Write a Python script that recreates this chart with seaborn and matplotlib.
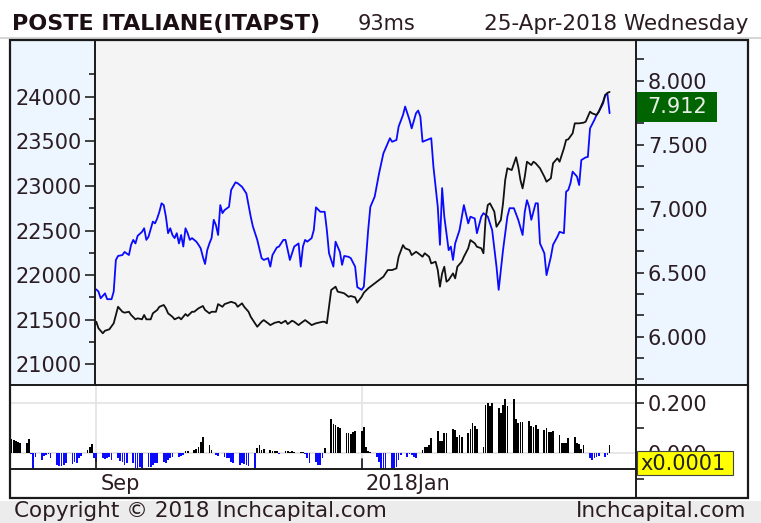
import numpy as np
import pandas as pd
import seaborn as sns
import matplotlib.pyplot as plt
import matplotlib.dates as mdates
import matplotlib.transforms as mtransforms
from matplotlib.patches import Rectangle
from matplotlib.lines import Line2D
from matplotlib.ticker import FixedLocator, FormatStrFormatter, NullFormatter

# ----------------------------
# Datos
# ----------------------------
# FTSE MIB (linea azul, eje izquierdo)
ftse_dates = [
    '2017-09-01', '2017-09-02', '2017-09-03', '2017-09-05', '2017-09-06', '2017-09-08', '2017-09-09', '2017-09-10', '2017-09-11', '2017-09-13',
    '2017-09-14', '2017-09-16', '2017-09-17', '2017-09-18', '2017-09-19', '2017-09-20', '2017-09-22', '2017-09-23', '2017-09-24', '2017-09-25',
    '2017-09-27', '2017-09-28', '2017-09-29', '2017-09-30', '2017-10-01', '2017-10-02', '2017-10-03', '2017-10-04', '2017-10-05', '2017-10-06',
    '2017-10-07', '2017-10-08', '2017-10-09', '2017-10-10', '2017-10-11', '2017-10-12', '2017-10-13', '2017-10-14', '2017-10-15', '2017-10-16',
    '2017-10-17', '2017-10-18', '2017-10-19', '2017-10-20', '2017-10-21', '2017-10-22', '2017-10-23', '2017-10-24', '2017-10-25', '2017-10-26',
    '2017-10-27', '2017-10-28', '2017-10-29', '2017-10-30', '2017-11-01', '2017-11-02', '2017-11-04', '2017-11-05', '2017-11-07', '2017-11-09',
    '2017-11-11', '2017-11-12', '2017-11-14', '2017-11-16', '2017-11-17', '2017-11-19', '2017-11-20', '2017-11-21', '2017-11-23', '2017-11-24',
    '2017-11-26', '2017-11-27', '2017-11-29', '2017-11-30', '2017-12-01', '2017-12-03', '2017-12-04', '2017-12-05', '2017-12-06', '2017-12-07',
    '2017-12-09', '2017-12-10', '2017-12-11', '2017-12-13', '2017-12-15', '2017-12-16', '2017-12-17', '2017-12-19', '2017-12-20', '2017-12-22',
    '2017-12-23', '2017-12-24', '2017-12-26', '2017-12-27', '2017-12-29', '2017-12-30', '2018-01-01', '2018-01-02', '2018-01-04', '2018-01-05',
    '2018-01-07', '2018-01-09', '2018-01-11', '2018-01-14', '2018-01-15', '2018-01-17', '2018-01-18', '2018-01-20', '2018-01-21', '2018-01-23',
    '2018-01-24', '2018-01-26', '2018-01-27', '2018-01-28', '2018-01-29', '2018-01-31', '2018-02-02', '2018-02-03', '2018-02-05', '2018-02-06',
    '2018-02-07', '2018-02-08', '2018-02-10', '2018-02-11', '2018-02-12', '2018-02-13', '2018-02-15', '2018-02-17', '2018-02-19', '2018-02-20',
    '2018-02-22', '2018-02-23', '2018-02-25', '2018-02-26', '2018-02-28', '2018-03-02', '2018-03-04', '2018-03-05', '2018-03-07', '2018-03-09',
    '2018-03-10', '2018-03-12', '2018-03-14', '2018-03-16', '2018-03-17', '2018-03-18', '2018-03-19', '2018-03-20', '2018-03-22', '2018-03-23',
    '2018-03-24', '2018-03-26', '2018-03-27', '2018-03-29', '2018-03-30', '2018-04-01', '2018-04-02', '2018-04-04', '2018-04-05', '2018-04-06',
    '2018-04-07', '2018-04-08', '2018-04-10', '2018-04-11', '2018-04-12', '2018-04-14', '2018-04-15', '2018-04-16', '2018-04-18', '2018-04-19',
    '2018-04-20', '2018-04-22', '2018-04-23', '2018-04-24', '2018-04-25']
ftse_values = [
    21840, 21815, 21740, 21795, 21730, 21730, 21815, 22170, 22215, 22225,
    22260, 22225, 22340, 22395, 22355, 22440, 22485, 22525, 22395, 22430,
    22600, 22580, 22635, 22710, 22805, 22785, 22655, 22470, 22525, 22450,
    22415, 22470, 22355, 22450, 22320, 22525, 22470, 22395, 22415, 22395,
    22375, 22340, 22300, 22205, 22125, 22280, 22355, 22415, 22620, 22560,
    22450, 22785, 22695, 22730, 22765, 22955, 23040, 23030, 22990, 22915,
    22655, 22545, 22395, 22190, 22170, 22190, 22095, 22225, 22310, 22320,
    22395, 22395, 22170, 22245, 22320, 22355, 22095, 22320, 22395, 22375,
    22415, 22505, 22760, 22710, 22710, 22505, 22245, 22095, 22375, 22260,
    22115, 22215, 22205, 22190, 22095, 21865, 21835, 21870, 22505, 22765,
    22880, 23140, 23365, 23535, 23495, 23515, 23665, 23795, 23890, 23740,
    23645, 23815, 23845, 23775, 23495, 23515, 23535, 23215, 22765, 22340,
    22975, 22655, 22280, 22320, 22170, 22355, 22505, 22785, 22580, 22655,
    22635, 22470, 22655, 22695, 22655, 22505, 22095, 21835, 22280, 22655,
    22750, 22750, 22620, 22450, 22710, 22840, 22765, 22620, 22805, 22805,
    22355, 22245, 22000, 22205, 22340, 22430, 22485, 22470, 22935, 22955,
    23030, 23160, 23105, 23010, 23290, 23320, 23325, 23645, 23740, 23795,
    23830, 23925, 24020, 24030, 23815]

# Poste Italiane (linea negra, eje derecho)
poste_dates = [
    '2017-09-01', '2017-09-02', '2017-09-04', '2017-09-05', '2017-09-07', '2017-09-09', '2017-09-10', '2017-09-11', '2017-09-13', '2017-09-14',
    '2017-09-16', '2017-09-17', '2017-09-19', '2017-09-20', '2017-09-22', '2017-09-23', '2017-09-24', '2017-09-26', '2017-09-27', '2017-09-29',
    '2017-09-30', '2017-10-02', '2017-10-03', '2017-10-04', '2017-10-06', '2017-10-07', '2017-10-09', '2017-10-10', '2017-10-12', '2017-10-13',
    '2017-10-15', '2017-10-16', '2017-10-18', '2017-10-20', '2017-10-21', '2017-10-23', '2017-10-24', '2017-10-26', '2017-10-27', '2017-10-29',
    '2017-10-30', '2017-11-01', '2017-11-02', '2017-11-04', '2017-11-05', '2017-11-07', '2017-11-08', '2017-11-10', '2017-11-11', '2017-11-13',
    '2017-11-14', '2017-11-16', '2017-11-17', '2017-11-19', '2017-11-20', '2017-11-22', '2017-11-24', '2017-11-25', '2017-11-27', '2017-11-28',
    '2017-11-30', '2017-12-01', '2017-12-03', '2017-12-04', '2017-12-06', '2017-12-08', '2017-12-09', '2017-12-11', '2017-12-12', '2017-12-14',
    '2017-12-15', '2017-12-16', '2017-12-17', '2017-12-18', '2017-12-20', '2017-12-21', '2017-12-23', '2017-12-24', '2017-12-26', '2017-12-27',
    '2017-12-29', '2017-12-30', '2018-01-01', '2018-01-02', '2018-01-04', '2018-01-07', '2018-01-09', '2018-01-11', '2018-01-13', '2018-01-15',
    '2018-01-17', '2018-01-18', '2018-01-20', '2018-01-21', '2018-01-23', '2018-01-24', '2018-01-26', '2018-01-27', '2018-01-29', '2018-01-30',
    '2018-02-01', '2018-02-02', '2018-02-04', '2018-02-05', '2018-02-06', '2018-02-07', '2018-02-08', '2018-02-09', '2018-02-10', '2018-02-12',
    '2018-02-13', '2018-02-14', '2018-02-16', '2018-02-17', '2018-02-19', '2018-02-20', '2018-02-22', '2018-02-23', '2018-02-25', '2018-02-26',
    '2018-02-27', '2018-02-28', '2018-03-01', '2018-03-03', '2018-03-04', '2018-03-06', '2018-03-07', '2018-03-08', '2018-03-09', '2018-03-11',
    '2018-03-13', '2018-03-14', '2018-03-15', '2018-03-16', '2018-03-17', '2018-03-18', '2018-03-20', '2018-03-21', '2018-03-22', '2018-03-24',
    '2018-03-26', '2018-03-27', '2018-03-29', '2018-03-30', '2018-04-01', '2018-04-02', '2018-04-04', '2018-04-05', '2018-04-06', '2018-04-08',
    '2018-04-09', '2018-04-11', '2018-04-13', '2018-04-14', '2018-04-16', '2018-04-17', '2018-04-19', '2018-04-20', '2018-04-22', '2018-04-23',
    '2018-04-24', '2018-04-25']
poste_values = [
    6.117, 6.066, 6.027, 6.047, 6.058, 6.105, 6.170, 6.234, 6.195, 6.188,
    6.195, 6.170, 6.136, 6.144, 6.136, 6.170, 6.136, 6.136, 6.183, 6.209,
    6.234, 6.248, 6.222, 6.183, 6.156, 6.136, 6.152, 6.136, 6.177, 6.162,
    6.195, 6.195, 6.222, 6.240, 6.209, 6.183, 6.195, 6.195, 6.255, 6.234,
    6.255, 6.267, 6.273, 6.261, 6.234, 6.261, 6.234, 6.195, 6.156, 6.105,
    6.078, 6.117, 6.130, 6.105, 6.091, 6.109, 6.117, 6.105, 6.125, 6.099,
    6.125, 6.117, 6.091, 6.105, 6.130, 6.105, 6.091, 6.105, 6.109, 6.117,
    6.117, 6.105, 6.234, 6.365, 6.391, 6.352, 6.344, 6.339, 6.312, 6.318,
    6.308, 6.266, 6.312, 6.344, 6.378, 6.417, 6.443, 6.469, 6.521, 6.521,
    6.534, 6.625, 6.716, 6.691, 6.677, 6.638, 6.664, 6.652, 6.625, 6.652,
    6.625, 6.573, 6.586, 6.521, 6.391, 6.495, 6.547, 6.430, 6.443, 6.495,
    6.456, 6.547, 6.586, 6.625, 6.691, 6.755, 6.730, 6.703, 6.691, 6.652,
    6.925, 7.029, 7.042, 6.977, 6.859, 6.912, 7.042, 7.224, 7.316, 7.302,
    7.402, 7.328, 7.224, 7.159, 7.250, 7.367, 7.341, 7.367, 7.355, 7.316,
    7.250, 7.211, 7.238, 7.355, 7.394, 7.367, 7.472, 7.537, 7.542, 7.589,
    7.667, 7.667, 7.672, 7.680, 7.758, 7.745, 7.732, 7.758, 7.836, 7.888,
    7.905, 7.912]

# Oscilador del panel inferior (x0.0001), un valor por dia habil
osc_start, osc_end = '2017-07-24', '2018-04-25'
osc_values = [
    0.055, 0.053, 0.050, 0.046, 0.042,
    0.042, 0.055, -0.004, -0.063, -0.013,
    -0.026, -0.011, -0.007, -0.003, -0.020,
    -0.046, -0.050, -0.050, -0.046, -0.040,
    -0.042, -0.033, -0.037, -0.020, -0.011,
    0.013, 0.026, 0.036, -0.020, -0.033,
    -0.020, -0.024, -0.020, -0.013, -0.026,
    -0.017, -0.029, -0.033, -0.046, -0.040,
    -0.040, -0.059, -0.063, -0.055, -0.059,
    -0.055, -0.053, -0.046, -0.037, -0.040,
    -0.033, -0.037, -0.026, -0.020, -0.015,
    -0.013, -0.011, -0.007, 0.007, 0.010,
    0.011, 0.016, 0.026, 0.046, 0.066,
    0.033, 0.013, 0.000, -0.007, -0.011,
    -0.013, -0.017, -0.020, -0.033, -0.040,
    -0.046, -0.037, -0.042, -0.046, -0.050,
    -0.059, 0.020, 0.033, 0.013, 0.016,
    0.011, 0.007, 0.009, 0.007, -0.003,
    0.007, 0.007, 0.005, 0.009, 0.005,
    0.005, 0.005, -0.003, -0.020, -0.040,
    -0.033, -0.046, -0.046, -0.020, 0.020,
    0.134, 0.116, 0.112, 0.104, 0.099,
    0.082, 0.079, 0.076, 0.086, 0.090,
    0.090, 0.103, 0.026, 0.009, 0.003,
    -0.013, -0.033, -0.059, -0.063, -0.063,
    -0.063, -0.059, -0.053, -0.026, -0.007,
    -0.013, -0.004, -0.007, -0.013, -0.020,
    0.013, 0.024, 0.026, 0.033, 0.059,
    0.090, 0.050, 0.050, 0.082, 0.080,
    0.095, 0.092, 0.066, 0.072, 0.066,
    0.082, 0.095, 0.119, 0.108, 0.095,
    0.026, 0.191, 0.198, 0.187, 0.198,
    0.178, 0.161, 0.191, 0.213, 0.187,
    0.213, 0.134, 0.121, 0.125, 0.125,
    0.129, 0.108, 0.103, 0.112, 0.095,
    0.092, 0.099, 0.086, 0.086, 0.090,
    0.072, 0.042, 0.040, 0.042, 0.059,
    0.063, 0.040, 0.037, 0.016, 0.033,
    -0.020, -0.026, -0.020, -0.013, -0.011,
    -0.016, -0.007, 0.033]

month_ticks = ['2017-09-01', '2018-01-01']
month_labels = ['Sep', '2018Jan']
left_ticks = [21000, 21500, 22000, 22500, 23000, 23500, 24000]
right_ticks = [6.0, 6.5, 7.0, 7.5, 8.0]
osc_ticks = [0.0, 0.2]

title = 'POSTE ITALIANE(ITAPST)'
timing = '93ms'
stamp = '25-Apr-2018 Wednesday'
footer_left = 'Copyright \u00a9 2018 Inchcapital.com'
footer_right = 'Inchcapital.com'

# ----------------------------
# Estilo y figura
# ----------------------------
sns.set_style('white')
plt.rcParams['font.family'] = ['DejaVu Sans']

W, H = 761, 523
TXT = '#2a1c22'
PANEL = '#edf5fe'
GRID = '#e3e3e3'
FS = 15

fig = plt.figure(figsize=(W / 100, H / 100), dpi=100)
fig.patch.set_facecolor('white')


def fbox(x0, y0, x1, y1):
    return [x0 / W, 1 - y1 / H, (x1 - x0) / W, (y1 - y0) / H]


def frect(x0, y0, x1, y1, **kw):
    fig.add_artist(Rectangle((x0 / W, 1 - y1 / H), (x1 - x0) / W, (y1 - y0) / H,
                             transform=fig.transFigure, **kw))


def fline(x0, y0, x1, y1, **kw):
    fig.add_artist(Line2D([x0 / W, x1 / W], [1 - y0 / H, 1 - y1 / H],
                          transform=fig.transFigure, **kw))


# paneles de fondo
frect(10, 40, 95, 385, facecolor=PANEL, edgecolor='none', zorder=-5)
frect(636, 40, 748, 385, facecolor=PANEL, edgecolor='none', zorder=-5)
frect(0, 501, W, H, facecolor='#ececec', edgecolor='none', zorder=-5)
fline(0, 38, W, 38, color='#d6d6d6', lw=1.5, zorder=-4)

# escala horizontal comun (pixeles por dia)
sep1 = mdates.date2num(pd.Timestamp('2017-09-01'))
ppd = 2.175

# ----------------------------
# Panel principal
# ----------------------------
ax = fig.add_axes(fbox(95, 40, 636, 385))
ax.set_facecolor('#f4f4f4')
ax2 = ax.twinx()

df_ftse = pd.DataFrame({'date': pd.to_datetime(ftse_dates), 'value': ftse_values})
df_poste = pd.DataFrame({'date': pd.to_datetime(poste_dates), 'value': poste_values})

sns.lineplot(data=df_poste, x='date', y='value', ax=ax2, color='#111111',
             lw=1.3, estimator=None, sort=False, zorder=3)
sns.lineplot(data=df_ftse, x='date', y='value', ax=ax, color='#0a0aff',
             lw=1.3, estimator=None, sort=False, zorder=3)

ax.set_xlim(sep1 + (95 - 96.3) / ppd, sep1 + (636 - 96.3) / ppd)
ax.set_ylim(20768, 24636)
ax2.set_ylim(5.623, 8.318)

for a in (ax, ax2):
    a.set_xlabel('')
    a.set_ylabel('')
    a.set_xticks([])
    for s in a.spines.values():
        s.set_visible(False)

ax.yaxis.set_major_locator(FixedLocator(left_ticks))
ax.yaxis.set_minor_locator(FixedLocator(np.arange(21250, 24300, 500)))
ax.yaxis.set_major_formatter(FormatStrFormatter('%d'))
ax.tick_params(axis='y', which='major', direction='out', length=7, width=1.2,
               color='#222222', labelsize=FS, labelcolor=TXT, pad=2.5)
ax.tick_params(axis='y', which='minor', direction='out', length=4.5, width=1.2,
               color='#222222')

ax2.yaxis.set_major_locator(FixedLocator(right_ticks))
ax2.yaxis.set_minor_locator(FixedLocator(np.arange(5.5, 8.34, 1 / 6)))
ax2.yaxis.set_major_formatter(FormatStrFormatter('%.3f'))
ax2.yaxis.set_minor_formatter(NullFormatter())
ax2.tick_params(axis='y', which='both', direction='out', length=6, width=1.2,
                color='#222222', labelsize=FS, labelcolor=TXT, pad=2.5)

# etiqueta del ultimo precio
last = poste_values[-1]
btr = mtransforms.blended_transform_factory(ax2.transAxes, ax2.transData)
ax2.add_patch(Rectangle((542 / 541, last - 30 / 128), 80 / 541, 30 / 128,
                        transform=btr, clip_on=False, facecolor='#006400',
                        edgecolor='none', zorder=10))
ax2.text(582 / 541, last - 15 / 128, f'{last:.3f}', transform=btr,
         ha='center', va='center', fontsize=FS, color='#e6eee6', zorder=11,
         clip_on=False)

# ----------------------------
# Panel inferior (oscilador)
# ----------------------------
axl = fig.add_axes(fbox(10, 385, 636, 498))
axl.set_facecolor('white')
osc_dates = pd.bdate_range(osc_start, osc_end)
osc = np.array(osc_values)
axl.bar(osc_dates, osc, width=0.8, color=np.where(osc >= 0, '#000000', '#0a0aff'),
        linewidth=0, zorder=3)
axl.set_xlim(sep1 + (10 - 96.3) / ppd, sep1 + (636 - 96.3) / ppd)
axl.set_ylim(-0.177, 0.270)
for s in axl.spines.values():
    s.set_visible(False)
axl.set_xticks([])
axl.yaxis.tick_right()
axl.yaxis.set_major_locator(FixedLocator(osc_ticks))
axl.yaxis.set_minor_locator(FixedLocator([-0.1, 0.1]))
axl.yaxis.set_major_formatter(FormatStrFormatter('%.3f'))
axl.tick_params(axis='y', which='both', direction='out', length=6, width=1.2,
                color='#222222', labelsize=FS, labelcolor=TXT, pad=2.5)
for v in osc_ticks:
    axl.axhline(v, color=GRID, lw=1.2, zorder=1)

band = (498 - 469) / 113
xtr = mtransforms.blended_transform_factory(axl.transData, axl.transAxes)
for d, lab in zip(month_ticks, month_labels):
    xd = mdates.date2num(pd.Timestamp(d))
    axl.axvline(xd, ymin=band, ymax=1, color=GRID, lw=1.2, zorder=1)
    axl.axvline(xd, ymin=band, ymax=band + 10 / 113, color='#222222', lw=1.3, zorder=4)
    axl.text(xd + 1.8, band / 2, lab, transform=xtr, ha='left', va='center',
             fontsize=FS, color=TXT)

# etiqueta de escala
frect(637, 451, 733, 475, facecolor='#ffff00', edgecolor='#444444', lw=0.8, zorder=8)
fig.text(640 / W, 1 - 463.5 / H, 'x0.0001', ha='left', va='center', fontsize=FS,
         color='#222222', zorder=9)

# ----------------------------
# Marcos
# ----------------------------
K = '#1a1a1a'
fline(95, 40, 95, 385, color=K, lw=1.4, zorder=6)
fline(636, 40, 636, 498, color=K, lw=1.4, zorder=6)
fline(10, 385, 748, 385, color=K, lw=1.4, zorder=6)
fline(10, 469, 636, 469, color=K, lw=1.4, zorder=6)
frect(10, 40, 748, 498, facecolor='none', edgecolor=K, lw=1.6, zorder=7)

# ----------------------------
# Textos de cabecera y pie
# ----------------------------
fig.text(12 / W, 1 - 30 / H, title, fontsize=16, fontweight='bold', color='#1c0f14',
         ha='left', va='baseline')
fig.text(358 / W, 1 - 30 / H, timing, fontsize=FS, color=TXT, ha='left', va='baseline')
fig.text(748 / W, 1 - 30 / H, stamp, fontsize=15.5, color=TXT, ha='right', va='baseline')
fig.text(14 / W, 1 - 517 / H, footer_left, fontsize=15.5, color=TXT, ha='left', va='baseline')
fig.text(746 / W, 1 - 517 / H, footer_right, fontsize=15.5, color=TXT, ha='right', va='baseline')

fig.savefig('out.png', dpi=100)
